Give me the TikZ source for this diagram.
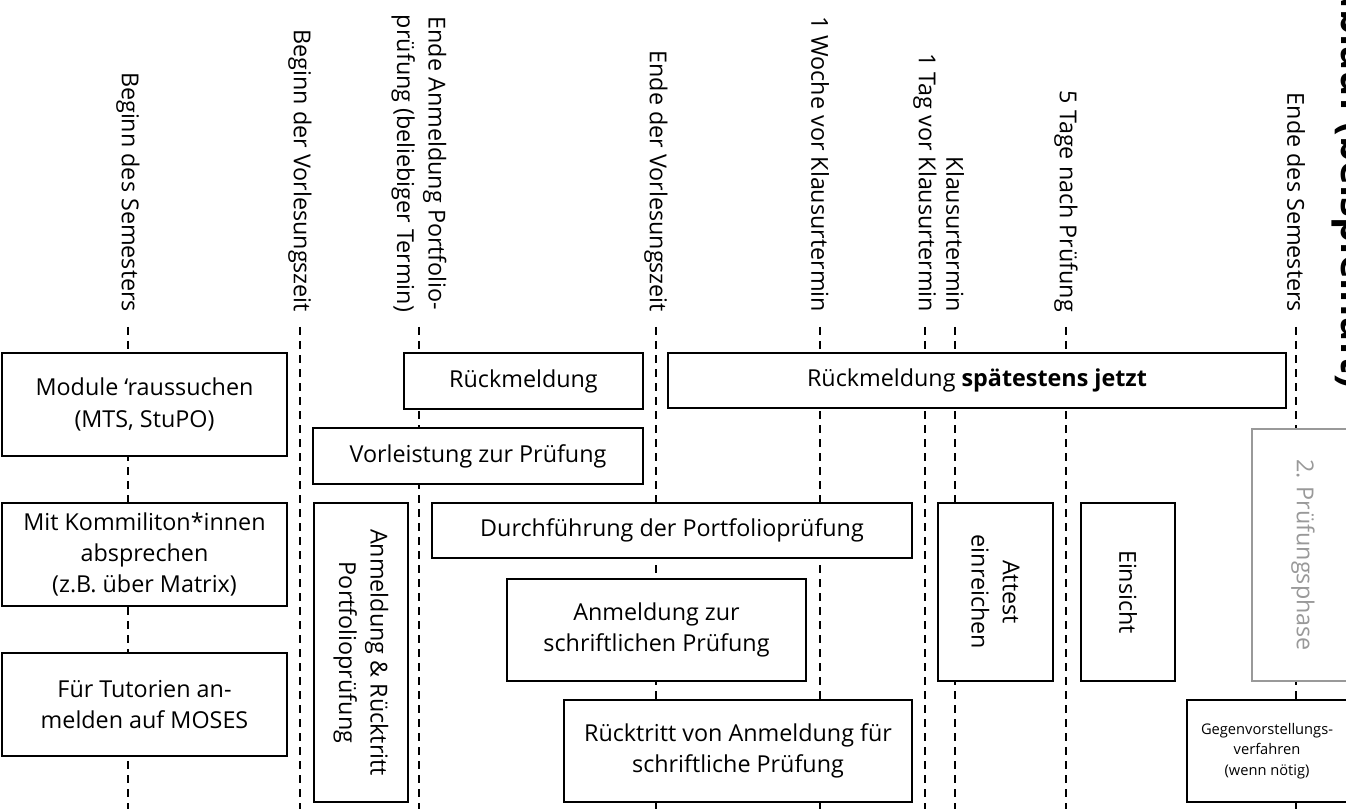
\documentclass[tikz,border=0pt]{standalone}
\usepackage{fontspec}
\setmainfont{Open Sans}
\usetikzlibrary{fit}

\begin{document}
\begin{tikzpicture}[x=0.75pt,y=-0.75pt,
  font=\fontsize{17.5}{23.6}\selectfont,
  box/.style={draw,line width=1.5pt,fill=white,inner sep=0pt},
  greybox/.style={box,draw=black!40,line width=1.1pt},
  lbl/.style={rotate=-90,anchor=east,inner xsep=11pt,inner ysep=0pt,align=center},
  tline/.style={line width=1.3pt,dash pattern=on 6pt off 4.5pt}]
\useasboundingbox (0,0) rectangle (1346,809);
\coordinate (bot) at (0,809);

\node[lbl] (semstart) at (128,327) {Beginn des Semesters};
\node[lbl] (vlstart) at (300,327) {Beginn der Vorlesungszeit};
\node[lbl] (portend) at (419,327) {Ende Anmeldung Portfolio-\\prüfung (beliebiger Termin)};
\node[lbl] (vlend) at (656,327) {Ende der Vorlesungszeit};
\node[lbl] (woche) at (820,327) {1 Woche vor Klausurtermin};
\node[lbl] (tag) at (925,327) {1 Tag vor Klausurtermin};
\node[lbl] (klausur) at (955,327) {Klausurtermin};
\node[lbl] (nach) at (1066,327) {5 Tage nach Prüfung};
\node[lbl] (semend) at (1296,327) {Ende des Semesters};

\foreach \t in {semstart,vlstart,portend,vlend,woche,tag,klausur,nach,semend}
  \draw[tline] (\t.east) -- (\t.east |- bot);

\node[box,fit={(2,353) (287,456)},label={[align=center]center:Module ‘raussuchen\\(MTS, StuPO)}] (module) {};
\node[box,fit={(2,503) (287,606)},label={[align=center]center:Mit Kommiliton*innen\\absprechen\\(z.B. über Matrix)}] (absprache) {};
\node[box,fit={(2,653) (287,756)},label={[align=center]center:Für Tutorien an-\\melden auf MOSES}] (tutorien) {};

\node[box,fit={(404,353) (643,409)},label=center:Rückmeldung] (rueck) {};
\node[box,fit={(313,428) (643,484)},label=center:Vorleistung zur Prüfung] (vorleistung) {};
\node[box,fit={(314,503) (408,802)},label={[rotate=-90,align=center]center:Anmeldung \& Rücktritt\\Portfolioprüfung}] (anmport) {};
\node[box,fit={(432,503) (912,558)},label=center:Durchführung der Portfolioprüfung] (durchf) {};
\node[box,fit={(507,579) (806,681)},label={[align=center]center:Anmeldung zur\\schriftlichen Prüfung}] (anmschr) {};
\node[box,fit={(564,700) (912,802)},label={[align=center]center:Rücktritt von Anmeldung für\\schriftliche Prüfung}] (ruecktritt) {};

\node[box,fit={(668,353) (1286,408)},label={center:Rückmeldung \textbf{spätestens jetzt}}] (spaet) {};
\node[box,fit={(938,503) (1053,681)},label={[rotate=-90,align=center]center:Attest\\einreichen}] (attest) {};
\node[box,fit={(1081,503) (1175,681)},label={[rotate=-90]center:Einsicht}] (einsicht) {};
\node[greybox,fit={(1252,429) (1354,681)},label={[rotate=-90,text=black!40]center:2. Prüfungsphase}] (phase) {};
\node[box,fit={(1187,700) (1347,802)},label={[align=center,font=\fontsize{11}{15.5}\selectfont]center:Gegenvorstellungs-\\verfahren\\(wenn nötig)}] (gegen) {};

\node[rotate=-90,anchor=base east,inner sep=0pt,font=\fontsize{30}{36}\selectfont\bfseries] (titel) at (1341,388) {Semesterablauf (beispielhaft)};
\end{tikzpicture}
\end{document}
